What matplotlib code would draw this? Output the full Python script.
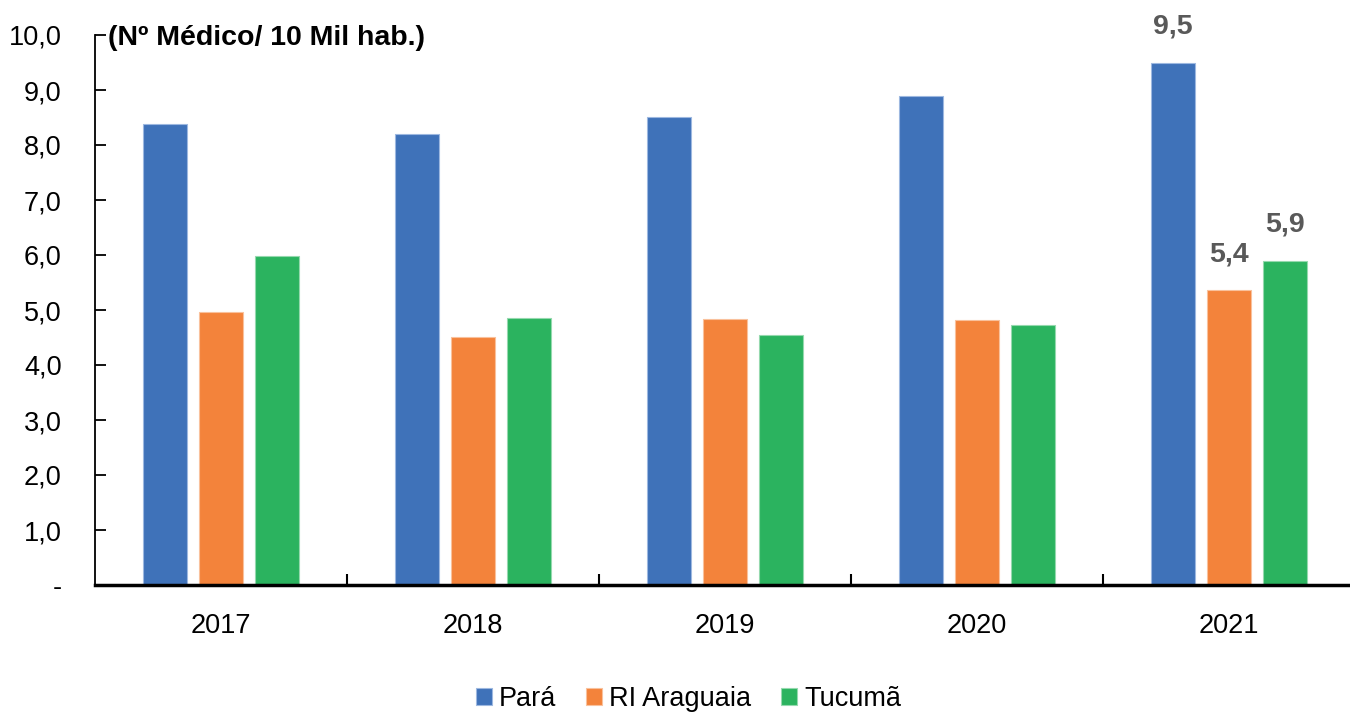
import matplotlib
matplotlib.use("Agg")
import matplotlib.pyplot as plt
from matplotlib.ticker import FixedLocator, FuncFormatter

plt.rcParams['font.family'] = ['Liberation Sans', 'DejaVu Sans']

years = ["2017", "2018", "2019", "2020", "2021"]
para = [8.38, 8.20, 8.51, 8.89, 9.49]
araguaia = [4.96, 4.51, 4.84, 4.82, 5.36]
tucuma = [5.98, 4.85, 4.55, 4.73, 5.89]
series_names = ["Pará", "RI Araguaia", "Tucumã"]
colors = ["#3F72B9", "#F3833B", "#2BB35F"]
edge_colors = ["#9DB8E0", "#F9C19C", "#95D9AE"]

fig = plt.figure(figsize=(13.5, 7.14), dpi=100)
ax = fig.add_axes([95/1350, (714-585)/714, (1350-95)/1350, (585-35)/714])

x = list(range(len(years)))
w = 0.175
step = 0.222
for k, (vals, c, ec, nm) in enumerate(zip([para, araguaia, tucuma], colors, edge_colors, series_names)):
    pos = [xi + (k - 1) * step for xi in x]
    ax.bar(pos, vals, width=w, color=c, edgecolor=ec, linewidth=0.8, label=nm, zorder=2)
    ax.text(pos[-1], vals[-1] + 0.42, f"{vals[-1]:.1f}".replace(".", ","),
            ha="center", va="bottom", fontsize=20.5, fontweight="bold", color="#595959")

ax.set_xlim(-0.5, 4.48)
ax.set_ylim(0, 10)
ax.set_xticks(x)
ax.set_xticklabels(years, fontsize=19.5)
ax.xaxis.set_minor_locator(FixedLocator([0.5, 1.5, 2.5, 3.5]))
ax.tick_params(axis="x", which="major", length=0, pad=20)
ax.tick_params(axis="x", which="minor", direction="in", length=8, width=1.5)
ax.set_yticks([i for i in range(11)])
ax.yaxis.set_major_formatter(FuncFormatter(lambda v, p: "-" if v == 0 else f"{v:.1f}".replace(".", ",")))
ax.tick_params(axis="y", direction="in", length=8, width=1.3, labelsize=19.5, pad=24)

ax.spines["top"].set_visible(False)
ax.spines["right"].set_visible(False)
ax.spines["left"].set_linewidth(1.3)
ax.spines["bottom"].set_linewidth(2.5)

ax.text(108/1350, 1 - 38/714, "(Nº Médico/ 10 Mil hab.)", transform=fig.transFigure,
        ha="left", va="center", fontsize=20.5, fontweight="bold")

leg = fig.legend(loc="lower center", bbox_to_anchor=(0.51, -0.02), ncol=3, frameon=False,
                 fontsize=19.5, handlelength=0.6, handleheight=0.6, handletextpad=0.25,
                 columnspacing=1.1, borderaxespad=0.2)

fig.savefig("out.png", dpi=100)
